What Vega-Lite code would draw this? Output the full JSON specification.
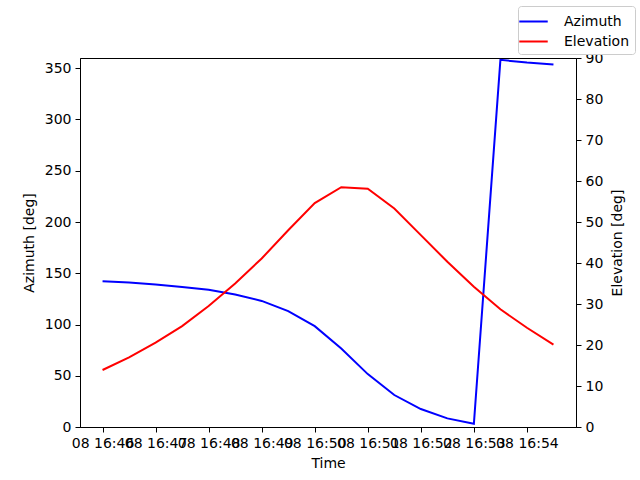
{
  "$schema": "https://vega.github.io/schema/vega-lite/v6.json",
  "width": 496,
  "height": 369,
  "autosize": "none",
  "padding": {"left": 80, "top": 58, "right": 64, "bottom": 53},
  "background": "white",
  "config": {
    "font": "DejaVu Sans",
    "view": {"stroke": "black", "strokeWidth": 1},
    "axis": {
      "grid": false,
      "domainColor": "black",
      "tickColor": "black",
      "tickSize": 5,
      "labelFontSize": 14,
      "labelColor": "black",
      "labelPadding": 4,
      "titleFontSize": 14,
      "titleFontWeight": "normal",
      "titleColor": "black"
    }
  },
  "data": {
    "values": [
      {"time": "2024-01-08T16:46:00", "azimuth": 142.2, "elevation": 13.9},
      {"time": "2024-01-08T16:46:30", "azimuth": 141.0, "elevation": 17.0},
      {"time": "2024-01-08T16:47:00", "azimuth": 139.0, "elevation": 20.6},
      {"time": "2024-01-08T16:47:30", "azimuth": 136.7, "elevation": 24.6},
      {"time": "2024-01-08T16:48:00", "azimuth": 133.8, "elevation": 29.5},
      {"time": "2024-01-08T16:48:30", "azimuth": 129.2, "elevation": 35.0},
      {"time": "2024-01-08T16:49:00", "azimuth": 123.0, "elevation": 41.1},
      {"time": "2024-01-08T16:49:30", "azimuth": 113.0, "elevation": 48.0},
      {"time": "2024-01-08T16:50:00", "azimuth": 98.4, "elevation": 54.6},
      {"time": "2024-01-08T16:50:30", "azimuth": 76.6, "elevation": 58.5},
      {"time": "2024-01-08T16:51:00", "azimuth": 51.6, "elevation": 58.1},
      {"time": "2024-01-08T16:51:30", "azimuth": 31.2, "elevation": 53.3},
      {"time": "2024-01-08T16:52:00", "azimuth": 17.5, "elevation": 46.8},
      {"time": "2024-01-08T16:52:30", "azimuth": 8.4, "elevation": 40.3},
      {"time": "2024-01-08T16:53:00", "azimuth": 3.2, "elevation": 34.2},
      {"time": "2024-01-08T16:53:30", "azimuth": 358.2, "elevation": 28.7},
      {"time": "2024-01-08T16:54:00", "azimuth": 355.5, "elevation": 24.2},
      {"time": "2024-01-08T16:54:30", "azimuth": 353.6, "elevation": 20.1}
    ]
  },
  "layer": [
    {
      "mark": {"type": "line", "strokeWidth": 2, "clip": true},
      "encoding": {
        "x": {
          "field": "time",
          "type": "temporal",
          "title": "Time",
          "scale": {"domain": [{"year": 2024, "month": 1, "date": 8, "hours": 16, "minutes": 45, "seconds": 34, "milliseconds": 500}, {"year": 2024, "month": 1, "date": 8, "hours": 16, "minutes": 54, "seconds": 55, "milliseconds": 500}], "nice": false},
          "axis": {
            "format": "%d %H:%M",
            "values": [
              {"year": 2024, "month": 1, "date": 8, "hours": 16, "minutes": 46},
              {"year": 2024, "month": 1, "date": 8, "hours": 16, "minutes": 47},
              {"year": 2024, "month": 1, "date": 8, "hours": 16, "minutes": 48},
              {"year": 2024, "month": 1, "date": 8, "hours": 16, "minutes": 49},
              {"year": 2024, "month": 1, "date": 8, "hours": 16, "minutes": 50},
              {"year": 2024, "month": 1, "date": 8, "hours": 16, "minutes": 51},
              {"year": 2024, "month": 1, "date": 8, "hours": 16, "minutes": 52},
              {"year": 2024, "month": 1, "date": 8, "hours": 16, "minutes": 53},
              {"year": 2024, "month": 1, "date": 8, "hours": 16, "minutes": 54}
            ],
            "labelOverlap": false,
            "labelFlush": false,
            "titlePadding": 6
          }
        },
        "y": {
          "field": "azimuth",
          "type": "quantitative",
          "title": "Azimuth [deg]",
          "scale": {"domain": [0, 360], "nice": false},
          "axis": {"values": [0, 50, 100, 150, 200, 250, 300, 350], "orient": "left", "titlePadding": 8}
        },
        "color": {
          "datum": "Azimuth",
          "type": "nominal",
          "scale": {"domain": ["Azimuth", "Elevation"], "range": ["blue", "red"]},
          "legend": {
            "title": null,
            "orient": "none",
            "legendX": 438,
            "legendY": -52,
            "symbolType": "M-1.5,0L1.5,0",
            "symbolStrokeWidth": 2,
            "symbolSize": 360,
            "labelFontSize": 14,
            "labelColor": "black",
            "labelOffset": 20,
            "strokeColor": "#cccccc",
            "cornerRadius": 3,
            "padding": 5,
            "rowPadding": 2,
            "fillColor": "white"
          }
        }
      }
    },
    {
      "mark": {"type": "line", "strokeWidth": 2, "clip": true},
      "encoding": {
        "x": {"field": "time", "type": "temporal"},
        "y": {
          "field": "elevation",
          "type": "quantitative",
          "title": "Elevation [deg]",
          "scale": {"domain": [0, 90], "nice": false},
          "axis": {"values": [0, 10, 20, 30, 40, 50, 60, 70, 80, 90], "orient": "right", "titlePadding": 8, "titleAngle": -90, "titleBaseline": "top"}
        },
        "color": {"datum": "Elevation", "type": "nominal"}
      }
    }
  ],
  "resolve": {"scale": {"y": "independent"}}
}
